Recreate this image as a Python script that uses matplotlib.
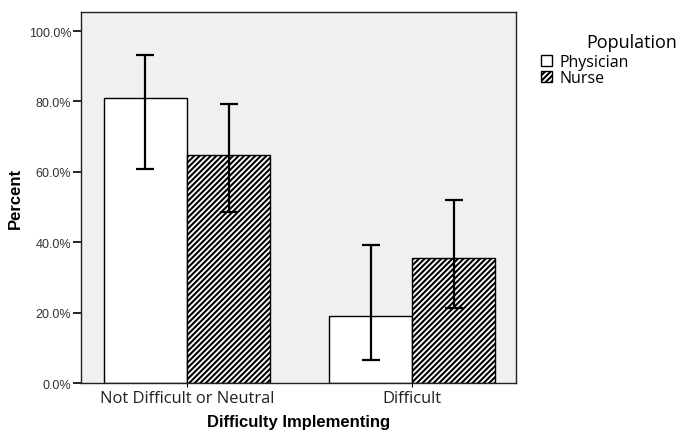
import numpy as np
import matplotlib
matplotlib.use("Agg")
import matplotlib.pyplot as plt
from matplotlib.patches import Patch

# datos
categories = ["Not Difficult or Neutral", "Difficult"]
groups = ["Physician", "Nurse"]
physician = [81.1, 19.1]
physician_lo = [60.8, 6.7]
physician_hi = [93.2, 39.3]
nurse = [64.8, 35.4]
nurse_lo = [48.5, 21.2]
nurse_hi = [79.3, 52.1]
yticks = [0, 20, 40, 60, 80, 100]

plt.rcParams['hatch.linewidth'] = 1.5
plt.rcParams['hatch.color'] = 'black'

fig = plt.figure(figsize=(6.8, 4.35), dpi=100)
ax = fig.add_axes([0.119, 0.117, 0.640, 0.853])
ax.set_facecolor('#f0f0f0')

x = np.arange(len(categories))
w = 0.369

ax.bar(x - w / 2, physician, w, color='white', edgecolor='black', linewidth=1.0, zorder=2)
ax.bar(x + w / 2, nurse, w, color='white', edgecolor='black', linewidth=1.0, hatch='//////', zorder=2)

for xs, vals, lo, hi in [(x - w / 2, physician, physician_lo, physician_hi),
                         (x + w / 2, nurse, nurse_lo, nurse_hi)]:
    vals = np.array(vals)
    err = [vals - np.array(lo), np.array(hi) - vals]
    ax.errorbar(xs, vals, yerr=err, fmt='none', ecolor='black', elinewidth=1.6,
                capsize=6.8, capthick=1.6, zorder=3)

ax.set_xlim(-0.471, 1.462)
ax.set_ylim(0, 105.4)
ax.set_yticks(yticks)
ax.set_yticklabels(['%.1f%%' % v for v in yticks], fontsize=9, color='#333333',
                   family='Liberation Sans')
ax.set_xticks(x)
ax.set_xticklabels(categories, fontsize=11.9, family='Open Sans', color='#222222')
ax.tick_params(axis='y', length=6, width=1.2, pad=1)
ax.tick_params(axis='x', length=3, width=0.8, pad=2)

for s in ax.spines.values():
    s.set_linewidth(1.0)
    s.set_color('#222222')

ax.set_ylabel('Percent', fontsize=12, fontweight='bold', family='Liberation Sans', labelpad=4)
ax.set_xlabel('Difficulty Implementing', fontsize=12, fontweight='bold', family='Liberation Sans',
              labelpad=6)

fig.text(0.996, 0.901, 'Population', fontsize=13, family='Open Sans', ha='right', va='center')
handles = [Patch(facecolor='white', edgecolor='black', linewidth=1.0),
           Patch(facecolor='white', edgecolor='black', linewidth=1.0, hatch='//////')]
fig.legend(handles, groups, loc='upper left', bbox_to_anchor=(0.795, 0.874), frameon=False,
           prop={'family': 'Open Sans', 'size': 11.5}, handlelength=0.7, handleheight=0.7,
           handletextpad=0.5, labelspacing=0.0, borderpad=0.0, borderaxespad=0.0)

fig.savefig('out.png', dpi=100)
